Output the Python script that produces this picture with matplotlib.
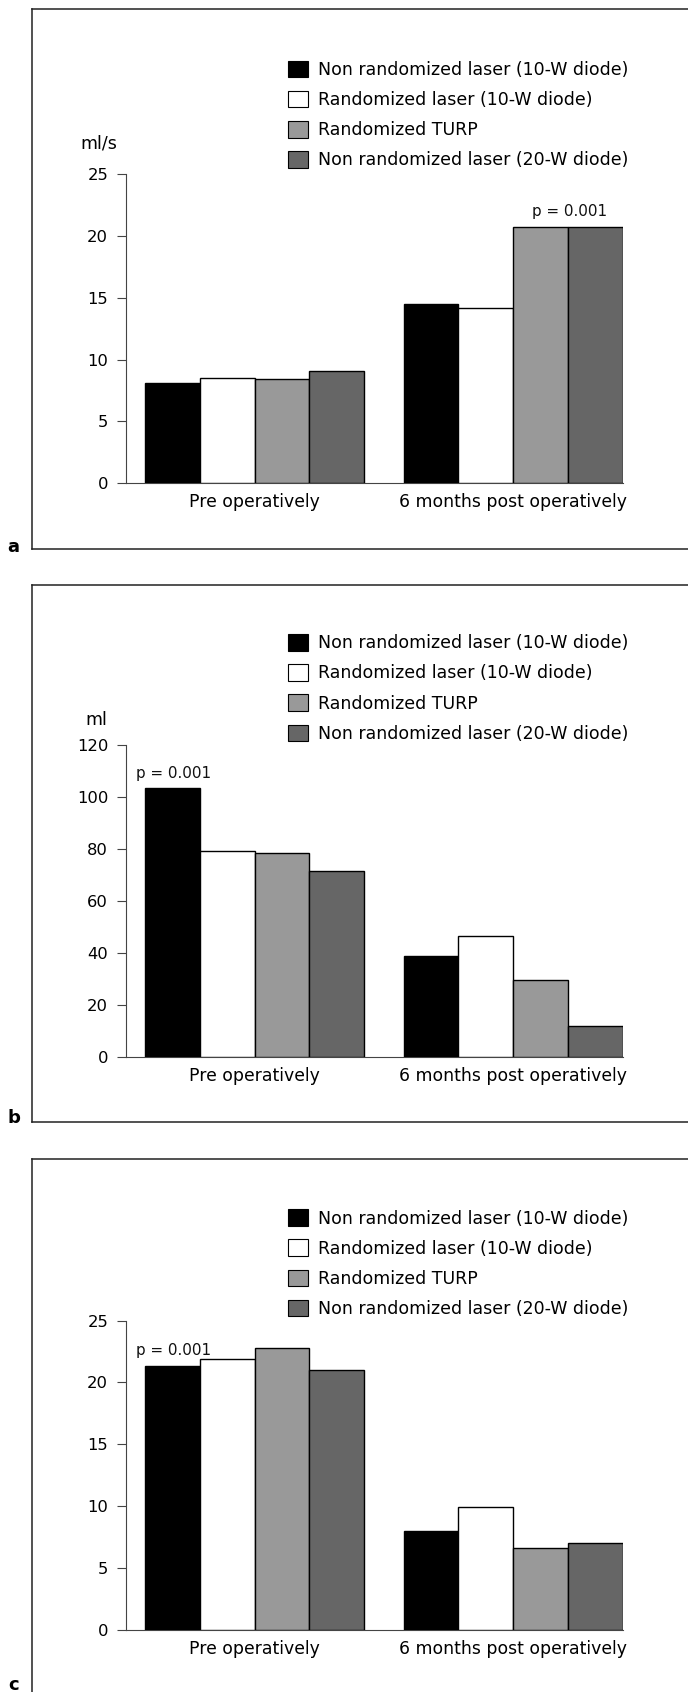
import matplotlib
matplotlib.use("Agg")
import matplotlib.pyplot as plt
from matplotlib.lines import Line2D
from matplotlib.patches import Patch

# ---------------- data ----------------
categories = ["Pre operatively", "6 months post operatively"]
series_names = [
    "Non randomized laser (10-W diode)",
    "Randomized laser (10-W diode)",
    "Randomized TURP",
    "Non randomized laser (20-W diode)",
]
series_colors = ["#000000", "#ffffff", "#999999", "#666666"]

# panel a: flow rate (ml/s)
a_pre = [8.1, 8.5, 8.4, 9.1]
a_post = [14.5, 14.2, 20.7, 20.7]
a_ticks = [0, 5, 10, 15, 20, 25]
# panel b: volume (ml)
b_pre = [103.4, 79.1, 78.4, 71.6]
b_post = [38.8, 46.6, 29.6, 12.0]
b_ticks = [0, 20, 40, 60, 80, 100, 120]
# panel c: score
c_pre = [21.3, 21.9, 22.8, 21.0]
c_post = [8.0, 9.9, 6.6, 7.0]
c_ticks = [0, 5, 10, 15, 20, 25]

p_text = "p = 0.001"

# ---------------- layout helpers ----------------
W, H = 688, 1692
fig = plt.figure(figsize=(W / 100, H / 100), dpi=100)
fig.patch.set_facecolor("white")


def fx(px):
    return px / W


def fy(py):
    return 1 - py / H


GROUP_STEP = 4.714
BAR_W = 1.0
XLIM = (-0.841, 8.214)
AX_LEFT, AX_RIGHT = 126, 623.2

panels = [
    dict(pre=a_pre, post=a_post, ticks=a_ticks, frame_top=9, frame_bot=549.3,
         y_top=174, y0=483.3, ylabel="ml/s", ylabel_pos=(99, 143),
         letter="a", letter_base=551.5, leg_top=60.6,
         p_pos=(7.24, 21.96)),
    dict(pre=b_pre, post=b_post, ticks=b_ticks, frame_top=585, frame_bot=1122.3,
         y_top=745, y0=1056.8, ylabel="ml", ylabel_pos=(96, 720),
         letter="b", letter_base=1123.3, leg_top=634.1,
         p_pos=(0.03, 109.0)),
    dict(pre=c_pre, post=c_post, ticks=c_ticks, frame_top=1158.7, frame_bot=1697,
         y_top=1320.5, y0=1630, ylabel=None, ylabel_pos=None,
         letter="c", letter_base=1690, leg_top=1209.3,
         p_pos=(0.03, 22.6)),
]

FS_LEG = 12.5
FS_CAT = 12.4
FS_TICK = 11.8
FS_P = 10.9
frame_color = "#222222"
spine_color = "#444444"

for P in panels:
    # frame (left, top, bottom; right side runs off the page)
    for xs, ys in [
        ([fx(31.7), fx(31.7)], [fy(P["frame_top"]), fy(P["frame_bot"])]),
        ([fx(31.7), 1.02], [fy(P["frame_top"]), fy(P["frame_top"])]),
        ([fx(31.7), 1.02], [fy(P["frame_bot"]), fy(P["frame_bot"])]),
    ]:
        fig.add_artist(Line2D(xs, ys, transform=fig.transFigure,
                              color=frame_color, lw=1.1, clip_on=False))

    ax = fig.add_axes([fx(AX_LEFT), fy(P["y0"]), (AX_RIGHT - AX_LEFT) / W,
                       (P["y0"] - P["y_top"]) / H])
    ax.set_facecolor("none")
    ticks = P["ticks"]
    ax.set_ylim(ticks[0], ticks[-1])
    ax.set_xlim(*XLIM)

    for gi, vals in enumerate([P["pre"], P["post"]]):
        for si, v in enumerate(vals):
            ax.bar(gi * GROUP_STEP + si * BAR_W, v, width=BAR_W,
                   color=series_colors[si], edgecolor="#000000",
                   linewidth=1.0, zorder=3)

    ax.set_yticks(ticks)
    ax.set_yticklabels([str(t) for t in ticks], fontsize=FS_TICK)
    ax.tick_params(axis="y", direction="out", length=6.5, width=0.8,
                   color=spine_color, pad=6.3)
    centers = [gi * GROUP_STEP + 1.5 * BAR_W for gi in range(len(categories))]
    ax.set_xticks(centers)
    ax.set_xticklabels(categories, fontsize=FS_CAT)
    ax.tick_params(axis="x", length=0, pad=7.2)

    for s in ["top", "right"]:
        ax.spines[s].set_visible(False)
    for s in ["left", "bottom"]:
        ax.spines[s].set_color(spine_color)
        ax.spines[s].set_linewidth(0.8)

    ax.text(P["p_pos"][0], P["p_pos"][1], p_text, ha="center", va="center",
            fontsize=FS_P, color="#111111", zorder=5)

    if P["ylabel"]:
        fig.text(fx(P["ylabel_pos"][0]), fy(P["ylabel_pos"][1]), P["ylabel"],
                 ha="center", va="center", fontsize=FS_LEG)

    fig.text(fx(13.5), fy(P["letter_base"]), P["letter"], ha="center",
             va="baseline", fontsize=13, fontweight="bold")

    handles = [Patch(facecolor=c, edgecolor="#000000", linewidth=0.8)
               for c in series_colors]
    fig.legend(handles, series_names, loc="upper left",
               bbox_to_anchor=(fx(288.3), fy(P["leg_top"])),
               bbox_transform=fig.transFigure, frameon=False,
               fontsize=FS_LEG, borderpad=0, borderaxespad=0,
               handlelength=20 / 17.36, handleheight=19 / 17.36,
               handletextpad=0.58, labelspacing=0.69)

fig.savefig("out.png", dpi=100, facecolor="white")
